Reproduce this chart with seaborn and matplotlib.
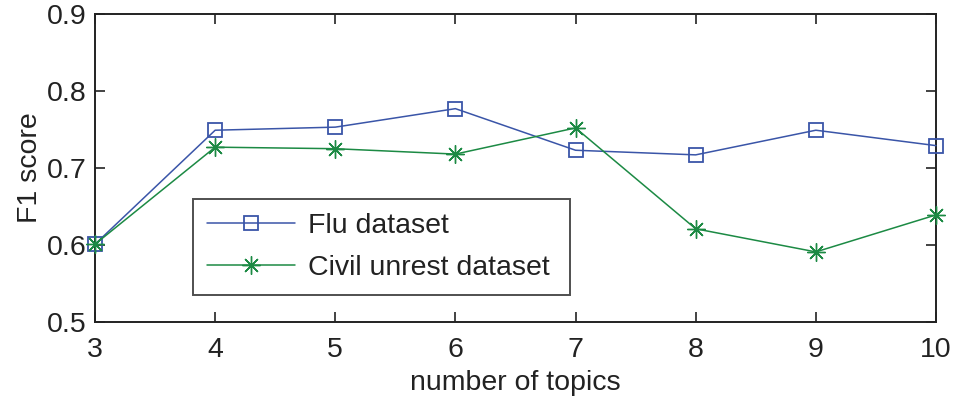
import matplotlib
matplotlib.use("Agg")
import matplotlib.pyplot as plt
import seaborn as sns
import pandas as pd

topics = [3, 4, 5, 6, 7, 8, 9, 10]
flu = [0.601, 0.749, 0.753, 0.777, 0.723, 0.717, 0.749, 0.729]
civil = [0.601, 0.727, 0.725, 0.718, 0.752, 0.621, 0.591, 0.639]
series_names = ["Flu dataset", "Civil unrest dataset"]
x_ticks = [3, 4, 5, 6, 7, 8, 9, 10]
y_ticks = [0.5, 0.6, 0.7, 0.8, 0.9]

sns.set_theme(style="white")
plt.rcParams["font.family"] = ["Liberation Sans", "DejaVu Sans"]

df_flu = pd.DataFrame({"topics": topics, "f1": flu})
df_civil = pd.DataFrame({"topics": topics, "f1": civil})

fig = plt.figure(figsize=(9.57, 3.98), dpi=100)
ax = fig.add_axes([0.0993, 0.191, 0.8787, 0.774])

c_flu = "#3a55a8"
c_civil = "#1c8a44"
FS = 20.5
sns.lineplot(data=df_flu, x="topics", y="f1", color=c_flu, marker="s",
             markersize=10, markerfacecolor="none", markeredgecolor=c_flu,
             markeredgewidth=1.3, linewidth=1.1, ax=ax, label=series_names[0],
             clip_on=False, zorder=3)
sns.lineplot(data=df_civil, x="topics", y="f1", color=c_civil, marker=(8, 2, 0),
             markersize=13, markeredgecolor=c_civil,
             markeredgewidth=1.0, linewidth=1.1, ax=ax, label=series_names[1],
             clip_on=False, zorder=3)

ax.set_xlim(3, 10)
ax.set_ylim(0.5, 0.9)
ax.set_xticks(x_ticks)
ax.set_yticks(y_ticks)
ax.set_xticklabels([str(t) for t in x_ticks])
ax.set_yticklabels([f"{t:.1f}" for t in y_ticks])
ax.tick_params(direction="in", length=7, width=1.2, top=True, right=True,
               bottom=True, left=True, labelsize=FS, colors="#222222",
               labelcolor="#222222", pad=6)
ax.tick_params(axis="x", pad=11)
for s in ax.spines.values():
    s.set_visible(True)
    s.set_color("#222222")
    s.set_linewidth(1.4)
ax.set_xlabel("number of topics", fontsize=FS, color="#222222", labelpad=5)
ax.set_ylabel("F1 score", fontsize=FS, color="#222222", labelpad=3)

handles, labels = ax.get_legend_handles_labels()
leg = ax.legend(handles, labels, loc="lower left",
                bbox_to_anchor=(0.1165, 0.0877, 0.448, 0.318), mode="expand",
                fontsize=FS, frameon=True, fancybox=False, edgecolor="#222222",
                handlelength=3.1, handletextpad=0.45, borderpad=0.5,
                labelspacing=0.55, borderaxespad=0)
leg.get_frame().set_linewidth(1.4)
for t in leg.get_texts():
    t.set_color("#222222")

fig.savefig("out.png", dpi=100)
